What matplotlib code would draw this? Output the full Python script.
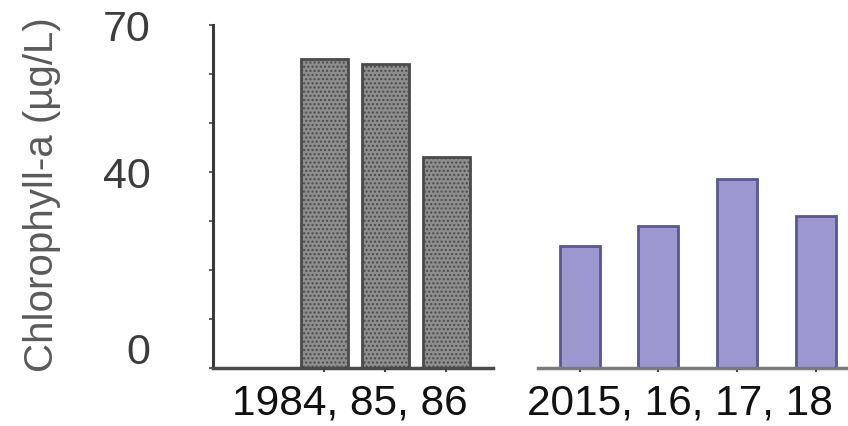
import matplotlib
matplotlib.use("Agg")
import matplotlib.pyplot as plt
from matplotlib.transforms import ScaledTranslation

# Data
years_1980s = ["1984", "1985", "1986"]
chl_1980s = [63, 62, 43]
years_2010s = ["2015", "2016", "2017", "2018"]
chl_2010s = [25, 29, 38.5, 31]
y_tick_values = [0, 40, 70]
group_labels = ["1984, 85, 86", "2015, 16, 17, 18"]
y_label = "Chlorophyll-a (µg/L)"

plt.rcParams['font.family'] = ['Liberation Sans', 'DejaVu Sans']

W, H = 848, 426
fig = plt.figure(figsize=(W / 100, H / 100), dpi=100)

def frac(x0, x1, ytop, ybot):
    return [x0 / W, 1 - ybot / H, (x1 - x0) / W, (ybot - ytop) / H]

ax1 = fig.add_axes(frac(213, 493, 25, 368))
ax2 = fig.add_axes(frac(538, 848, 25, 368))

# Left panel
x1 = list(range(len(chl_1980s)))
ax1.bar(x1, chl_1980s, width=0.77, color="#8e8e8e", edgecolor="#4a4a4a",
        linewidth=2, hatch="....", zorder=2)
ax1.set_xlim(-1.82, 2.77)
ax1.set_ylim(0, 70)
ax1.set_yticks(y_tick_values)
ax1.set_yticks(range(0, 71, 10), minor=True)
ax1.set_yticklabels([str(v) for v in y_tick_values], fontsize=31, color="#3c3c3c")
ax1.tick_params(axis="y", which="both", length=3, width=1.2, color="#444444", pad=42)
# the "0" label sits a little above its tick in the original
zero_lab = ax1.get_yticklabels()[0]
zero_lab.set_transform(zero_lab.get_transform() +
                       ScaledTranslation(0, 0.2, fig.dpi_scale_trans))
ax1.set_xticks(x1)
ax1.set_xticklabels([])
ax1.tick_params(axis="x", length=3, width=1.5, color="#444444")
for s in ["top", "right"]:
    ax1.spines[s].set_visible(False)
ax1.spines["left"].set_linewidth(2.2)
ax1.spines["left"].set_color("#3a3a3a")
ax1.spines["bottom"].set_linewidth(2.5)
ax1.spines["bottom"].set_color("#4a4a4a")

# Right panel
x2 = list(range(len(chl_2010s)))
ax2.bar(x2, chl_2010s, width=0.51, color="#9c98cf", edgecolor="#5a5695",
        linewidth=2, zorder=2)
ax2.set_xlim(-0.53, 3.41)
ax2.set_ylim(0, 70)
ax2.set_yticks([])
ax2.set_xticks(x2)
ax2.set_xticklabels([])
ax2.tick_params(axis="x", length=3, width=1.5, color="#444444")
for s in ["top", "right", "left"]:
    ax2.spines[s].set_visible(False)
ax2.spines["bottom"].set_linewidth(2.5)
ax2.spines["bottom"].set_color("#7a7a7a")

# Group labels
fig.text(350 / W, 1 - 403 / H, group_labels[0], fontsize=30.5, ha="center", va="center", color="#111111")
fig.text(680 / W, 1 - 403 / H, group_labels[1], fontsize=30.5, ha="center", va="center", color="#111111")

# Y label
fig.text(42 / W, 1 - 195 / H, y_label, fontsize=29, rotation=90, ha="center", va="center", color="#5a5a5a")

fig.savefig("out.png", dpi=100)
